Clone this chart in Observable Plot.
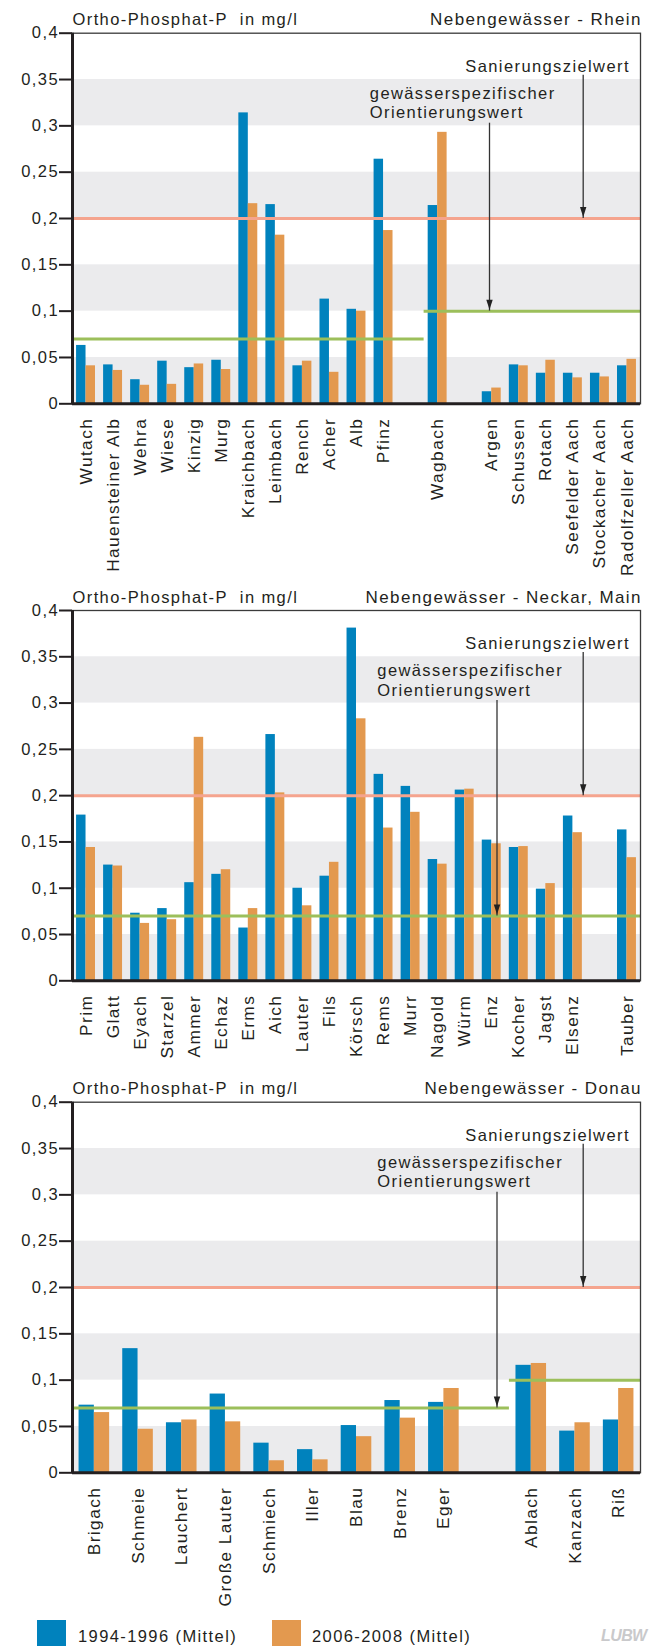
<!DOCTYPE html>
<html>
<head>
<meta charset="utf-8">
<script src="https://cdn.jsdelivr.net/npm/d3@7"></script>
<script src="https://cdn.jsdelivr.net/npm/@observablehq/plot@0.6"></script>
<style>
  html, body { margin: 0; padding: 0; background: #fff; }
  #page { position: relative; width: 650px; height: 1646px; overflow: hidden; font-family: "Liberation Sans", Arial, Helvetica, sans-serif; color: #231f20; }
  #page svg { position: absolute; left: 0; }
  #page svg text { letter-spacing: 1.4px; }
  .lg-sw { position: absolute; width: 29px; height: 27px; }
  .lg-tx { position: absolute; font-size: 16.5px; line-height: 16.5px; letter-spacing: 1.4px; white-space: nowrap; }
  #logo { position: absolute; left: 601px; top: 1627px; font: italic bold 16px "Liberation Sans Narrow", "Liberation Sans", Arial, sans-serif; color: #c9c9cb; letter-spacing: -0.6px; }
</style>
</head>
<body>
<div id="page"></div>
<script>
// ---------- data ----------
const series = ["1994-1996 (Mittel)", "2006-2008 (Mittel)"];
const seriesColors = ["#0082bd", "#e3994f"];
const yTicks = [0, 0.05, 0.1, 0.15, 0.2, 0.25, 0.3, 0.35, 0.4];
const yLabel = "Ortho-Phosphat-P\u00a0 in mg/l";
const sanierungszielwert = 0.2;

// Rhein ("·" marks an empty slot)
const rheinTitle = "Nebengewässer - Rhein";
const rheinSlots = ["Wutach", "Hauensteiner Alb", "Wehra", "Wiese", "Kinzig", "Murg", "Kraichbach", "Leimbach", "Rench", "Acher", "Alb", "Pfinz", "·1", "Wagbach", "·2", "Argen", "Schussen", "Rotach", "Seefelder Aach", "Stockacher Aach", "Radolfzeller Aach"];
const rhein1994 = [0.063, 0.042, 0.026, 0.046, 0.039, 0.047, 0.314, 0.215, 0.041, 0.113, 0.102, 0.264, 0.214, 0.013, 0.042, 0.033, 0.033, 0.033, 0.041];
const rhein2006 = [0.041, 0.036, 0.020, 0.021, 0.043, 0.037, 0.216, 0.182, 0.046, 0.034, 0.100, 0.187, 0.293, 0.017, 0.041, 0.047, 0.028, 0.029, 0.048];
const rheinOrientierung = [{from: "Wutach", to: "·1", value: 0.07}, {from: "Wagbach", to: "Radolfzeller Aach", value: 0.1}];
const rheinArrowTarget = 0.1;

// Neckar, Main
const neckarTitle = "Nebengewässer - Neckar, Main";
const neckarSlots = ["Prim", "Glatt", "Eyach", "Starzel", "Ammer", "Echaz", "Erms", "Aich", "Lauter", "Fils", "Körsch", "Rems", "Murr", "Nagold", "Würm", "Enz", "Kocher", "Jagst", "Elsenz", "·1", "Tauber"];
const neckar1994 = [0.179, 0.125, 0.073, 0.078, 0.106, 0.115, 0.057, 0.266, 0.100, 0.113, 0.381, 0.223, 0.210, 0.131, 0.206, 0.152, 0.144, 0.099, 0.178, 0.163];
const neckar2006 = [0.144, 0.124, 0.062, 0.066, 0.263, 0.120, 0.078, 0.203, 0.081, 0.128, 0.283, 0.165, 0.182, 0.126, 0.207, 0.148, 0.145, 0.105, 0.160, 0.133];
const neckarOrientierung = [{from: "Prim", to: "Tauber", value: 0.07}];
const neckarArrowTarget = 0.07;

// Donau
const donauTitle = "Nebengewässer - Donau";
const donauSlots = ["Brigach", "Schmeie", "Lauchert", "Große Lauter", "Schmiech", "Iller", "Blau", "Brenz", "Eger", "·1", "Ablach", "Kanzach", "Riß"];
const donau1994 = [0.073, 0.134, 0.054, 0.085, 0.032, 0.025, 0.051, 0.078, 0.076, 0.116, 0.045, 0.057];
const donau2006 = [0.065, 0.047, 0.057, 0.055, 0.013, 0.014, 0.039, 0.059, 0.091, 0.118, 0.054, 0.091];
const donauOrientierung = [{from: "Brigach", to: "·1", value: 0.07}, {from: "Ablach", to: "Riß", value: 0.1}];
const donauArrowTarget = 0.07;

// ---------- drawing ----------
const W = 650, ML = 72, MR = 10, FS = 16.5, FSX = 17.3, FST = 17;
const FONT = "'Liberation Sans', Arial, Helvetica, sans-serif";
const INK = "#231f20";
const isGap = s => s.startsWith("·");
const fmt = d => d === 0 ? "0" : String(Math.round(d * 100) / 100).replace(".", ",");
const arrowHead = {draw(ctx) { ctx.moveTo(-3.2, -10); ctx.lineTo(3.2, -10); ctx.lineTo(0, 0); ctx.closePath(); }};

function panel({slots, v1, v2, orient, arrowTarget, title, top, height, marginTop, marginBottom, shift}) {
  const rivers = slots.filter(s => !isGap(s));
  const rows = rivers.flatMap((r, i) => [{river: r, s: 0, value: v1[i]}, {river: r, s: 1, value: v2[i]}]);
  const step = (W - ML - MR) / slots.length;
  const pad = 0.15 * step, half = step / 2;
  const cx = (ML + W - MR) / 2;
  const bands = yTicks.slice(0, -1).map((t, i) => ({y1: t, y2: yTicks[i + 1]})).filter((d, i) => i % 2 === 0);
  const yMax = yTicks[yTicks.length - 1];
  const svg = Plot.plot({
    width: W, height, marginLeft: ML, marginRight: MR, marginTop, marginBottom,
    style: {fontFamily: FONT, fontSize: FS + "px", color: INK, background: "transparent", overflow: "visible"},
    x: {type: "band", domain: slots, padding: 0, round: false},
    y: {domain: [0, yMax]},
    marks: [
      Plot.rect(bands, {y1: "y1", y2: "y2", fill: "#ebebed"}),
      Plot.barY(rows.filter(d => d.s === 0), {x: "river", y: "value", fill: seriesColors[0], insetLeft: pad, insetRight: half}),
      Plot.barY(rows.filter(d => d.s === 1), {x: "river", y: "value", fill: seriesColors[1], insetLeft: half, insetRight: pad}),
      Plot.ruleY([sanierungszielwert], {stroke: "#f5a48e", strokeWidth: 3}),
      Plot.ruleY(orient, {y: "value", x1: "from", x2: "to", stroke: "#9cbf5b", strokeWidth: 3}),
      Plot.frame({stroke: "#3a3a3a", strokeWidth: 1.3}),
      Plot.ruleY([0], {stroke: INK, strokeWidth: 3}),
      Plot.ruleX([slots[0]], {x: d => d, dx: -half, stroke: INK, strokeWidth: 3}),
      // arrows
      Plot.ruleX([sanierungszielwert], {x: null, y1: yMax, y2: d => d, insetTop: 42, dx: 582.7 - cx, stroke: "#333", strokeWidth: 1.3}),
      Plot.dot([sanierungszielwert], {x: null, y: d => d, symbol: arrowHead, fill: "#222", stroke: null, dx: 582.7 - cx, dy: -1.5}),
      Plot.ruleX([arrowTarget], {x: null, y1: yMax, y2: d => d, insetTop: 90, dx: 496.5 + shift - cx, stroke: "#333", strokeWidth: 1.3}),
      Plot.dot([arrowTarget], {x: null, y: d => d, symbol: arrowHead, fill: "#222", stroke: null, dx: 496.5 + shift - cx, dy: -1.5}),
      // axes
      Plot.axisY({ticks: yTicks, tickSize: 13, tickPadding: 0.5, tickFormat: fmt, strokeWidth: 2, stroke: INK, fontSize: FS, fill: INK}),
      Plot.axisX({tickSize: 0, tickPadding: 14, tickRotate: -90, tickFormat: d => isGap(d) ? "" : d, fontSize: FSX, fill: INK}),
      // texts
      Plot.text([yLabel], {text: d => d, frameAnchor: "top-left", textAnchor: "start", lineAnchor: "top", dy: -19.7, fontSize: FS, fill: INK}),
      Plot.text([title], {text: d => d, frameAnchor: "top-right", textAnchor: "end", lineAnchor: "top", dx: 1.4, dy: -20, fontSize: FST, fill: INK}),
      Plot.text(["Sanierungszielwert"], {text: d => d, frameAnchor: "top-right", textAnchor: "end", lineAnchor: "top", dx: -10.6, dy: 26.6, fontSize: FS, fill: INK}),
      Plot.text(["gewässerspezifischer\nOrientierungswert"], {text: d => d, frameAnchor: "top-left", textAnchor: "start", lineAnchor: "top", lineHeight: 1.17, dx: 304.8 + shift, dy: 52, fontSize: FS, fill: INK})
    ]
  });
  svg.style.top = top + "px";
  return svg;
}

const page = document.getElementById("page");
page.appendChild(panel({slots: rheinSlots, v1: rhein1994, v2: rhein2006, orient: rheinOrientierung, arrowTarget: rheinArrowTarget, title: rheinTitle, top: 0, height: 560, marginTop: 32.7, marginBottom: 156.7, shift: -7.5}));
page.appendChild(panel({slots: neckarSlots, v1: neckar1994, v2: neckar2006, orient: neckarOrientierung, arrowTarget: neckarArrowTarget, title: neckarTitle, top: 560, height: 500, marginTop: 50, marginBottom: 79.7, shift: 0}));
page.appendChild(panel({slots: donauSlots, v1: donau1994, v2: donau2006, orient: donauOrientierung, arrowTarget: donauArrowTarget, title: donauTitle, top: 1060, height: 552, marginTop: 41.7, marginBottom: 139.7, shift: 0}));

// legend
const lgX = [[36.5, 78], [272, 312]];
series.forEach((s, i) => {
  const sw = document.createElement("div");
  sw.className = "lg-sw"; sw.style.left = lgX[i][0] + "px"; sw.style.top = "1620px"; sw.style.background = seriesColors[i];
  const tx = document.createElement("div");
  tx.className = "lg-tx"; tx.style.left = lgX[i][1] + "px"; tx.style.top = "1628px"; tx.textContent = s;
  page.appendChild(sw); page.appendChild(tx);
});
const logo = document.createElement("div");
logo.id = "logo"; logo.textContent = "LUBW";
page.appendChild(logo);
</script>
</body>
</html>
